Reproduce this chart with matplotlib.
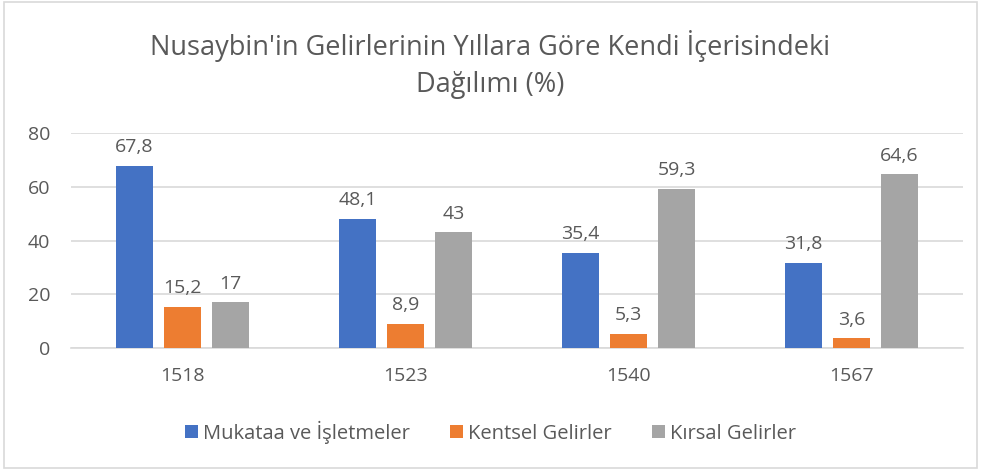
import numpy as np
import matplotlib.pyplot as plt
from matplotlib.patches import Rectangle

plt.rcParams['font.family'] = ['Open Sans', 'DejaVu Sans']

years = ['1518', '1523', '1540', '1567']
series = ['Mukataa ve İşletmeler', 'Kentsel Gelirler', 'Kırsal Gelirler']
mukataa = [67.8, 48.1, 35.4, 31.8]
kentsel = [15.2, 8.9, 5.3, 3.6]
kirsal = [17, 43, 59.3, 64.6]
colors = ['#4472C4', '#ED7D31', '#A5A5A5']

txt = '#595959'
fig = plt.figure(figsize=(9.81, 4.70), dpi=100)
ax = fig.add_axes([71 / 981, 1 - 348 / 470, 892 / 981, 215 / 470])

x = np.arange(len(years))
step = 0.216
width = 0.166
for i, (vals, name, c) in enumerate(zip([mukataa, kentsel, kirsal], series, colors)):
    bars = ax.bar(x + (i - 1) * step, vals, width, color=c, label=name, zorder=3)
    for b, v in zip(bars, vals):
        lab = ('%g' % v).replace('.', ',')
        ax.annotate(lab, (b.get_x() + b.get_width() / 2, v), xytext=(0, 7),
                    textcoords='offset points', ha='center', va='bottom',
                    fontsize=14, color=txt)

ax.set_xlim(-0.5, len(years) - 0.5)
ax.set_ylim(0, 80)
ax.set_yticks([0, 20, 40, 60, 80])
ax.set_xticks(x)
ax.set_xticklabels(years)
ax.yaxis.grid(True, color='#D9D9D9', linewidth=1.2, zorder=0)
for s in ['top', 'right', 'left']:
    ax.spines[s].set_visible(False)
ax.spines['bottom'].set_color('#D9D9D9')
ax.spines['bottom'].set_linewidth(1.2)
ax.tick_params(axis='both', length=0, labelsize=14, colors=txt)
ax.tick_params(axis='y', pad=15)
ax.tick_params(axis='x', pad=14)

fig.text(0.5, 1 - 46 / 470, "Nusaybin'in Gelirlerinin Yıllara Göre Kendi İçerisindeki",
         ha='center', va='center', fontsize=19.5, color=txt)
fig.text(0.5, 1 - 85 / 470, "Dağılımı (%)",
         ha='center', va='center', fontsize=19.5, color=txt)

leg = fig.legend(loc='center', bbox_to_anchor=(0.5, 1 - 432 / 470), ncol=3,
                 frameon=False, fontsize=14.5, handlelength=0.65, handleheight=0.65,
                 handletextpad=0.25, columnspacing=2.0)
for t in leg.get_texts():
    t.set_color(txt)

fig.patches.append(Rectangle((0.004, 0.004), 0.992, 0.992, transform=fig.transFigure,
                             fill=False, edgecolor='#D9D9D9', linewidth=1.2))

fig.savefig('out.png', dpi=100)
